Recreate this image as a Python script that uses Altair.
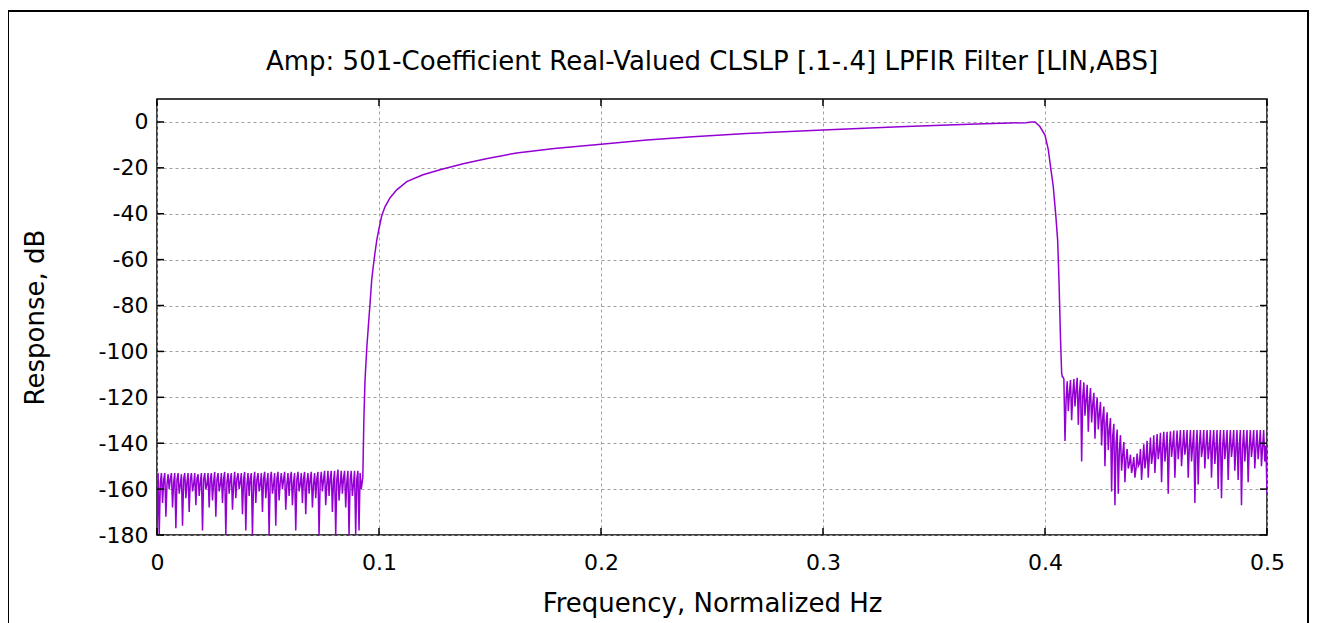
import altair as alt
import pandas as pd

# ---------------- data ----------------
# lower stopband (0 .. 0.092): (frequency, dB) samples, three per row
SB1 = [
    (0.0000, -180),
    (0.0005, -153), (0.0010, -180), (0.0015, -157),
    (0.0020, -153), (0.0025, -166), (0.0030, -156),
    (0.0035, -153), (0.0040, -172), (0.0045, -158),
    (0.0050, -153.5), (0.0055, -160), (0.0060, -155.5),
    (0.0065, -153), (0.0070, -168), (0.0075, -157),
    (0.0080, -153), (0.0085, -177), (0.0090, -156),
    (0.0095, -153), (0.0100, -162), (0.0105, -158),
    (0.0110, -153.5), (0.0115, -176), (0.0120, -155.5),
    (0.0125, -153), (0.0130, -164), (0.0135, -157),
    (0.0140, -153), (0.0145, -170), (0.0150, -156),
    (0.0155, -153), (0.0160, -161), (0.0165, -158),
    (0.0170, -153), (0.0175, -167), (0.0180, -155.5),
    (0.0185, -153.5), (0.0190, -163), (0.0195, -157),
    (0.0200, -153), (0.0205, -178), (0.0210, -156),
    (0.0215, -153), (0.0220, -160), (0.0225, -158),
    (0.0230, -153), (0.0235, -168), (0.0240, -155.5),
    (0.0245, -153), (0.0250, -165), (0.0255, -157),
    (0.0260, -152.5), (0.0265, -172), (0.0270, -156),
    (0.0275, -153), (0.0280, -161), (0.0285, -158),
    (0.0290, -153), (0.0295, -166), (0.0300, -155.5),
    (0.0305, -152.5), (0.0310, -180), (0.0315, -157),
    (0.0320, -153), (0.0325, -162), (0.0330, -156),
    (0.0335, -153), (0.0340, -169), (0.0345, -158),
    (0.0350, -152.5), (0.0355, -164), (0.0360, -155.5),
    (0.0365, -153), (0.0370, -160), (0.0375, -157),
    (0.0380, -153), (0.0385, -171), (0.0390, -156),
    (0.0395, -152.5), (0.0400, -178), (0.0405, -158),
    (0.0410, -153), (0.0415, -163), (0.0420, -155.5),
    (0.0425, -153), (0.0430, -180), (0.0435, -157),
    (0.0440, -152.5), (0.0445, -166), (0.0450, -156),
    (0.0455, -153), (0.0460, -161), (0.0465, -158),
    (0.0470, -153), (0.0475, -170), (0.0480, -155.5),
    (0.0485, -152.5), (0.0490, -164), (0.0495, -157),
    (0.0500, -153), (0.0505, -180), (0.0510, -156),
    (0.0515, -152.5), (0.0520, -162), (0.0525, -158),
    (0.0530, -153), (0.0535, -176), (0.0540, -155.5),
    (0.0545, -152.5), (0.0550, -165), (0.0555, -157),
    (0.0560, -153), (0.0565, -160), (0.0570, -156),
    (0.0575, -152.5), (0.0580, -169), (0.0585, -158),
    (0.0590, -153), (0.0595, -163), (0.0600, -155.5),
    (0.0605, -152.5), (0.0610, -167), (0.0615, -157),
    (0.0620, -153), (0.0625, -178), (0.0630, -156),
    (0.0635, -152.5), (0.0640, -161), (0.0645, -158),
    (0.0650, -153), (0.0655, -166), (0.0660, -155.5),
    (0.0665, -152.5), (0.0670, -171), (0.0675, -157),
    (0.0680, -153), (0.0685, -162), (0.0690, -156),
    (0.0695, -152.5), (0.0700, -168), (0.0705, -158),
    (0.0710, -153), (0.0715, -164), (0.0720, -155.5),
    (0.0725, -152.5), (0.0730, -180), (0.0735, -157),
    (0.0740, -152.5), (0.0745, -161), (0.0750, -156),
    (0.0755, -152), (0.0760, -167), (0.0765, -158),
    (0.0770, -152), (0.0775, -163), (0.0780, -155.5),
    (0.0785, -152), (0.0790, -170), (0.0795, -157),
    (0.0800, -152), (0.0805, -180), (0.0810, -156),
    (0.0815, -151.5), (0.0820, -165), (0.0825, -158),
    (0.0830, -152), (0.0835, -162), (0.0840, -155.5),
    (0.0845, -152), (0.0850, -168), (0.0855, -157),
    (0.0860, -152), (0.0865, -180), (0.0870, -156),
    (0.0875, -152), (0.0880, -163), (0.0885, -158),
    (0.0890, -152), (0.0895, -180), (0.0900, -155.5),
    (0.0905, -152), (0.0910, -178), (0.0915, -153),
    (0.0920, -160),
]

# lower transition band
TR1_F = [0.0927, 0.0932, 0.0937, 0.0945, 0.0952, 0.0959, 0.0967, 0.0974, 0.0982,
         0.0990, 0.1001, 0.1012, 0.1027, 0.1050, 0.1080, 0.1125, 0.1198, 0.1275]
TR1_DB = [-155, -129, -112.5, -98.5, -89, -80, -69, -63, -57,
          -51.5, -46, -41, -37, -33, -29.6, -26, -23, -20.8]

# passband
PB_F = [0.1379, 0.1483, 0.162, 0.179, 0.200, 0.2207, 0.2414, 0.2655, 0.300,
        0.3345, 0.369, 0.3805, 0.3914, 0.3940, 0.3955]
PB_DB = [-18.2, -16.0, -13.5, -11.6, -9.7, -7.9, -6.5, -5.0, -3.5,
         -2.1, -0.9, -0.6, -0.3, 0.0, 0.0]

# upper transition band
TR2_F = [0.3977, 0.4000, 0.4015, 0.4027, 0.4037, 0.4048, 0.4057, 0.4063, 0.4070,
         0.4075, 0.4078]
TR2_DB = [-2.0, -5.7, -12.2, -21, -28, -40, -51.5, -69, -95,
          -109.5, -111]

# upper stopband (0.408 .. 0.5): (frequency, dB) samples, three per row
SB2 = [
    (0.4080, -111),
    (0.4085, -112), (0.4090, -139), (0.4095, -121),
    (0.4100, -113), (0.4105, -126), (0.4110, -118),
    (0.4115, -112.5), (0.4120, -130), (0.4125, -119),
    (0.4130, -112), (0.4135, -124), (0.4140, -117),
    (0.4145, -111.5), (0.4150, -132), (0.4155, -118),
    (0.4160, -112.5), (0.4165, -148), (0.4170, -120),
    (0.4175, -113.5), (0.4180, -128), (0.4185, -121),
    (0.4190, -114.5), (0.4195, -135), (0.4200, -122),
    (0.4205, -116), (0.4210, -131), (0.4215, -123),
    (0.4220, -118), (0.4225, -138), (0.4230, -125),
    (0.4235, -120), (0.4240, -134), (0.4245, -127),
    (0.4250, -122), (0.4255, -141), (0.4260, -129),
    (0.4265, -124), (0.4270, -150), (0.4275, -131),
    (0.4280, -126.5), (0.4285, -143), (0.4290, -134),
    (0.4295, -129), (0.4300, -161), (0.4305, -137),
    (0.4310, -131.5), (0.4315, -167), (0.4320, -140),
    (0.4325, -134), (0.4330, -162), (0.4335, -143),
    (0.4340, -136.5), (0.4345, -152), (0.4350, -145),
    (0.4355, -139.5), (0.4360, -157), (0.4365, -147),
    (0.4370, -142.5), (0.4375, -151), (0.4380, -149),
    (0.4385, -145), (0.4390, -153), (0.4395, -150),
    (0.4400, -146), (0.4405, -155), (0.4410, -151),
    (0.4415, -144.5), (0.4420, -150), (0.4425, -149),
    (0.4430, -142.5), (0.4435, -156), (0.4440, -148),
    (0.4445, -140.5), (0.4450, -151), (0.4455, -147),
    (0.4460, -139), (0.4465, -155), (0.4470, -146),
    (0.4475, -137.5), (0.4480, -149), (0.4485, -145),
    (0.4490, -136.5), (0.4495, -153), (0.4500, -144),
    (0.4505, -136), (0.4510, -147), (0.4515, -143),
    (0.4520, -135.5), (0.4525, -157), (0.4530, -142),
    (0.4535, -135), (0.4540, -148), (0.4545, -142),
    (0.4550, -135), (0.4555, -162), (0.4560, -142),
    (0.4565, -134.8), (0.4570, -146), (0.4575, -141),
    (0.4580, -134.5), (0.4585, -155), (0.4590, -142),
    (0.4595, -134.5), (0.4600, -147), (0.4605, -141),
    (0.4610, -134.3), (0.4615, -150), (0.4620, -142),
    (0.4625, -134.3), (0.4630, -145), (0.4635, -141),
    (0.4640, -134.3), (0.4645, -155), (0.4650, -142),
    (0.4655, -134.3), (0.4660, -148), (0.4665, -141),
    (0.4670, -134.3), (0.4675, -166), (0.4680, -142),
    (0.4685, -134.3), (0.4690, -158), (0.4695, -141),
    (0.4700, -134.3), (0.4705, -146), (0.4710, -142),
    (0.4715, -134.3), (0.4720, -151), (0.4725, -141),
    (0.4730, -134.3), (0.4735, -147), (0.4740, -142),
    (0.4745, -134.3), (0.4750, -155), (0.4755, -141),
    (0.4760, -134.3), (0.4765, -149), (0.4770, -142),
    (0.4775, -134.3), (0.4780, -160), (0.4785, -141),
    (0.4790, -134.3), (0.4795, -164), (0.4800, -142),
    (0.4805, -134.3), (0.4810, -147), (0.4815, -141),
    (0.4820, -134.3), (0.4825, -156), (0.4830, -142),
    (0.4835, -134.3), (0.4840, -146), (0.4845, -141),
    (0.4850, -134.3), (0.4855, -152), (0.4860, -142),
    (0.4865, -134.3), (0.4870, -156), (0.4875, -141),
    (0.4880, -134.3), (0.4885, -167), (0.4890, -142),
    (0.4895, -134.3), (0.4900, -148), (0.4905, -141),
    (0.4910, -134.3), (0.4915, -157), (0.4920, -142),
    (0.4925, -134.3), (0.4930, -146), (0.4935, -141),
    (0.4940, -134.3), (0.4945, -151), (0.4950, -142),
    (0.4955, -134.3), (0.4960, -147), (0.4965, -141),
    (0.4970, -134.3), (0.4975, -150), (0.4980, -142),
    (0.4985, -134.3), (0.4990, -148), (0.4995, -141),
    (0.5000, -162),
]

X_TICKS = [0, 0.1, 0.2, 0.3, 0.4, 0.5]
Y_TICKS = [-180, -160, -140, -120, -100, -80, -60, -40, -20, 0]

TITLE = "Amp: 501-Coefficient Real-Valued CLSLP [.1-.4] LPFIR Filter [LIN,ABS]"
XTITLE = "Frequency, Normalized Hz"
YTITLE = "Response, dB"

# ---------------- build ----------------
freq = [p[0] for p in SB1] + TR1_F + PB_F + TR2_F + [p[0] for p in SB2]
resp = [p[1] for p in SB1] + TR1_DB + PB_DB + TR2_DB + [p[1] for p in SB2]
curve = pd.DataFrame({"f": freq, "db": resp, "i": list(range(len(freq)))})
xt = pd.DataFrame({"f": X_TICKS})
yt = pd.DataFrame({"db": Y_TICKS})
one = pd.DataFrame({"label": [TITLE]})

W, H = 1110, 436
FONT = "DejaVu Sans"
TL = 7  # inward tick length

xscale = alt.Scale(domain=[0, 0.5], nice=False, zero=False)
yscale = alt.Scale(domain=[-180, 10], nice=False, zero=False)

xaxis = alt.Axis(
    values=X_TICKS, labelExpr="datum.value + ''", ticks=False, domain=False,
    grid=True, gridDash=[3, 3], gridColor="#a0a0a0", gridWidth=1,
    labelFont=FONT, labelFontSize=22, labelColor="#000", labelPadding=17,
    labelFlush=False, labelOverlap=False,
    title=XTITLE, titleFont=FONT, titleFontSize=26, titleFontWeight="normal",
    titleColor="#000", titleX=W / 2, titleY=68, titleAlign="center",
    titleBaseline="middle", titleAngle=0)
yaxis = alt.Axis(
    values=Y_TICKS, labelExpr="datum.value + ''", ticks=False, domain=False,
    grid=True, gridDash=[3, 3], gridColor="#a0a0a0", gridWidth=1,
    labelFont=FONT, labelFontSize=22, labelColor="#000", labelPadding=9,
    labelFlush=False, labelOverlap=False,
    title=YTITLE, titleFont=FONT, titleFontSize=26, titleFontWeight="normal",
    titleColor="#000", titleX=-122, titleY=218, titleAlign="center",
    titleBaseline="middle", titleAngle=270)

line = alt.Chart(curve).mark_line(color="#9400D3", strokeWidth=1.5, clip=True).encode(
    x=alt.X("f:Q", scale=xscale, axis=xaxis, title=XTITLE),
    y=alt.Y("db:Q", scale=yscale, axis=yaxis, title=YTITLE),
    order="i:Q",
)

tick_style = dict(color="#000", strokeWidth=1.5)
xb = alt.Chart(xt).mark_rule(**tick_style).encode(
    x=alt.X("f:Q", scale=xscale, title=XTITLE), y=alt.value(H), y2=alt.value(H - TL))
xtop = alt.Chart(xt).mark_rule(**tick_style).encode(
    x=alt.X("f:Q", scale=xscale, title=XTITLE), y=alt.value(0), y2=alt.value(TL))
yl = alt.Chart(yt).mark_rule(**tick_style).encode(
    y=alt.Y("db:Q", scale=yscale, title=YTITLE), x=alt.value(0), x2=alt.value(TL))
yr = alt.Chart(yt).mark_rule(**tick_style).encode(
    y=alt.Y("db:Q", scale=yscale, title=YTITLE), x=alt.value(W - TL), x2=alt.value(W))

frame = alt.Chart(one).mark_rect(
    fillOpacity=0, stroke="#000", strokeWidth=2).encode(
    x=alt.value(-149), x2=alt.value(1151), y=alt.value(-88), y2=alt.value(580))

title = alt.Chart(one).mark_text(
    font=FONT, fontSize=26, color="#000", align="center", baseline="alphabetic").encode(
    x=alt.value(W / 2), y=alt.value(-29), text="label:N")

chart = alt.layer(line, xb, xtop, yl, yr, frame, title).properties(
    width=W, height=H,
    autosize=alt.AutoSizeParams(type="none"),
    padding={"left": 149, "top": 91, "right": 42, "bottom": 88},
    background="white",
).configure_view(stroke="#000", strokeWidth=1.5)

chart.save("out.html", embed_options={"renderer": "svg", "actions": False})
